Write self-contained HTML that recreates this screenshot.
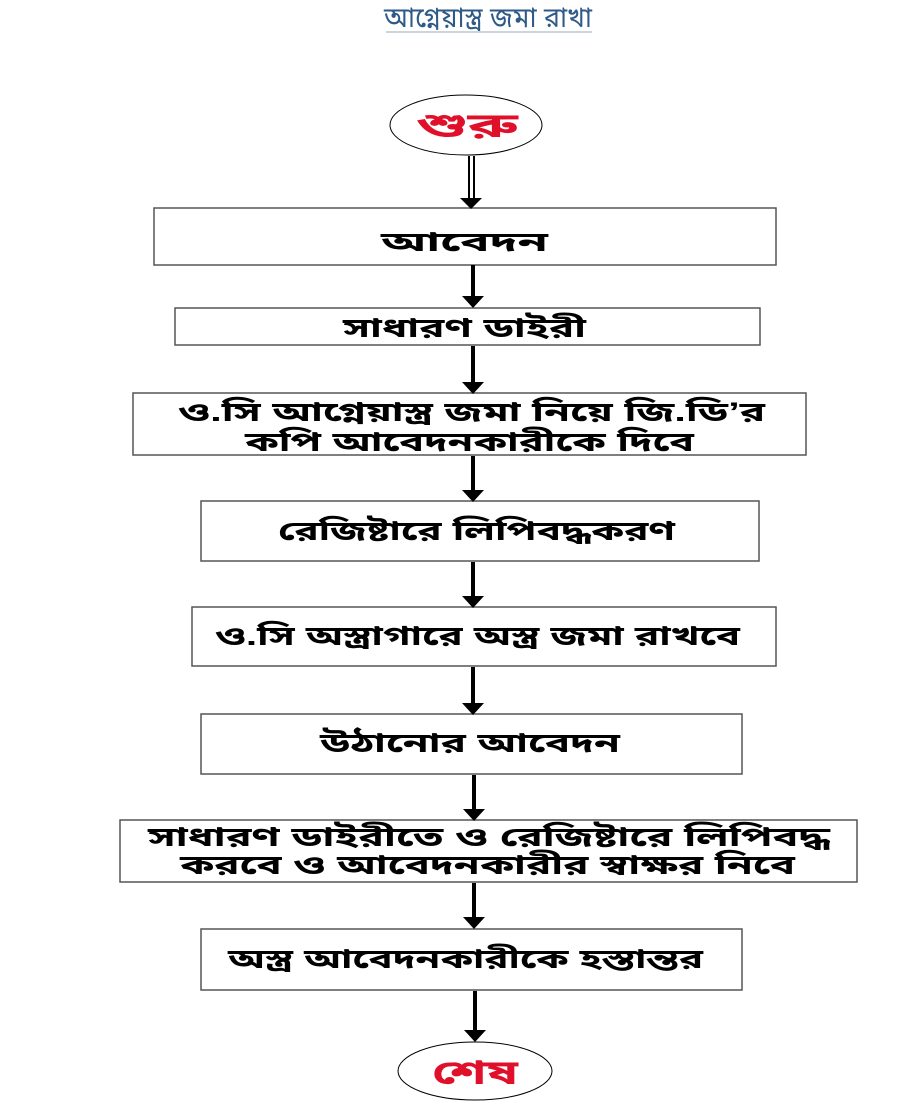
<!DOCTYPE html>
<html><head><meta charset="utf-8"><style>
html,body{margin:0;padding:0;background:#fff;width:900px;height:1118px;overflow:hidden}
text{font-family:"Liberation Sans","Noto Sans Bengali","Lohit Bengali",sans-serif;font-weight:bold}
</style></head><body>
<svg width="900" height="1118" viewBox="0 0 900 1118" xmlns="http://www.w3.org/2000/svg">
<text x="384" y="27" textLength="208" lengthAdjust="spacingAndGlyphs" font-size="28" fill="#2e5a88" style="font-weight:normal">আগ্নেয়াস্ত্র জমা রাখা</text>
<line x1="386" y1="32" x2="592" y2="32" stroke="#9ab" stroke-width="1"/>
<g fill="none" stroke="#000">
<ellipse cx="466" cy="125" rx="76" ry="30" stroke-width="1"/>
<ellipse cx="475" cy="1071" rx="77" ry="29" stroke-width="1"/>
<g stroke="#555" stroke-width="1.5" fill="#fff">
<rect x="154" y="208" width="622" height="57"/>
<rect x="175" y="308" width="585" height="37"/>
<rect x="133" y="393" width="673" height="62"/>
<rect x="201" y="501" width="558" height="60"/>
<rect x="192" y="607" width="584" height="59"/>
<rect x="201" y="714" width="541" height="60"/>
<rect x="120" y="820" width="737" height="62"/>
<rect x="201" y="929" width="541" height="61"/>
</g>
<g stroke="#000" stroke-width="2">
<line x1="469" y1="156" x2="469" y2="202"/>
<line x1="474" y1="156" x2="474" y2="202"/>
</g>
<g stroke="#000" stroke-width="4">
<line x1="473" y1="265" x2="473" y2="300"/>
<line x1="473" y1="346" x2="473" y2="386"/>
<line x1="473" y1="456" x2="473" y2="494"/>
<line x1="473" y1="562" x2="473" y2="600"/>
<line x1="473" y1="667" x2="473" y2="707"/>
<line x1="474" y1="775" x2="474" y2="813"/>
<line x1="474" y1="883" x2="474" y2="921"/>
<line x1="475" y1="991" x2="475" y2="1034"/>
</g>
</g>
<g fill="#000">
<path d="M460,198 L482,198 L471,209 z"/>
<path d="M462,296 L484,296 L473,308 z"/>
<path d="M462,382 L484,382 L473,394 z"/>
<path d="M462,490 L484,490 L473,502 z"/>
<path d="M462,596 L484,596 L473,608 z"/>
<path d="M462,703 L484,703 L473,715 z"/>
<path d="M463,809 L485,809 L474,821 z"/>
<path d="M463,917 L485,917 L474,929 z"/>
<path d="M464,1030 L486,1030 L475,1042 z"/>
</g>
<text x="416" y="137" textLength="102" lengthAdjust="spacingAndGlyphs" font-size="34" fill="#e0102a">শুরু</text>
<text x="432" y="1084" textLength="86" lengthAdjust="spacingAndGlyphs" font-size="34" fill="#e0102a">শেষ</text>
<g font-size="27" fill="#000">
<text x="381" y="251" textLength="167" lengthAdjust="spacingAndGlyphs">আবেদন</text>
<text x="343" y="337" textLength="243" lengthAdjust="spacingAndGlyphs">সাধারণ ডাইরী</text>
<text x="178" y="421" textLength="587" lengthAdjust="spacingAndGlyphs">ও.সি আগ্নেয়াস্ত্র জমা নিয়ে জি.ডি’র</text>
<text x="245" y="451" textLength="449" lengthAdjust="spacingAndGlyphs">কপি আবেদনকারীকে দিবে</text>
<text x="278" y="540" textLength="397" lengthAdjust="spacingAndGlyphs">রেজিষ্টারে লিপিবদ্ধকরণ</text>
<text x="215" y="645" textLength="525" lengthAdjust="spacingAndGlyphs">ও.সি অস্ত্রাগারে অস্ত্র জমা রাখবে</text>
<text x="320" y="752" textLength="300" lengthAdjust="spacingAndGlyphs">উঠানোর আবেদন</text>
<text x="148" y="846" textLength="682" lengthAdjust="spacingAndGlyphs">সাধারণ ডাইরীতে ও রেজিষ্টারে লিপিবদ্ধ</text>
<text x="180" y="874" textLength="615" lengthAdjust="spacingAndGlyphs">করবে ও আবেদনকারীর স্বাক্ষর নিবে</text>
<text x="228" y="968" textLength="475" lengthAdjust="spacingAndGlyphs">অস্ত্র আবেদনকারীকে হস্তান্তর</text>
</g>
</svg>
</body></html>
